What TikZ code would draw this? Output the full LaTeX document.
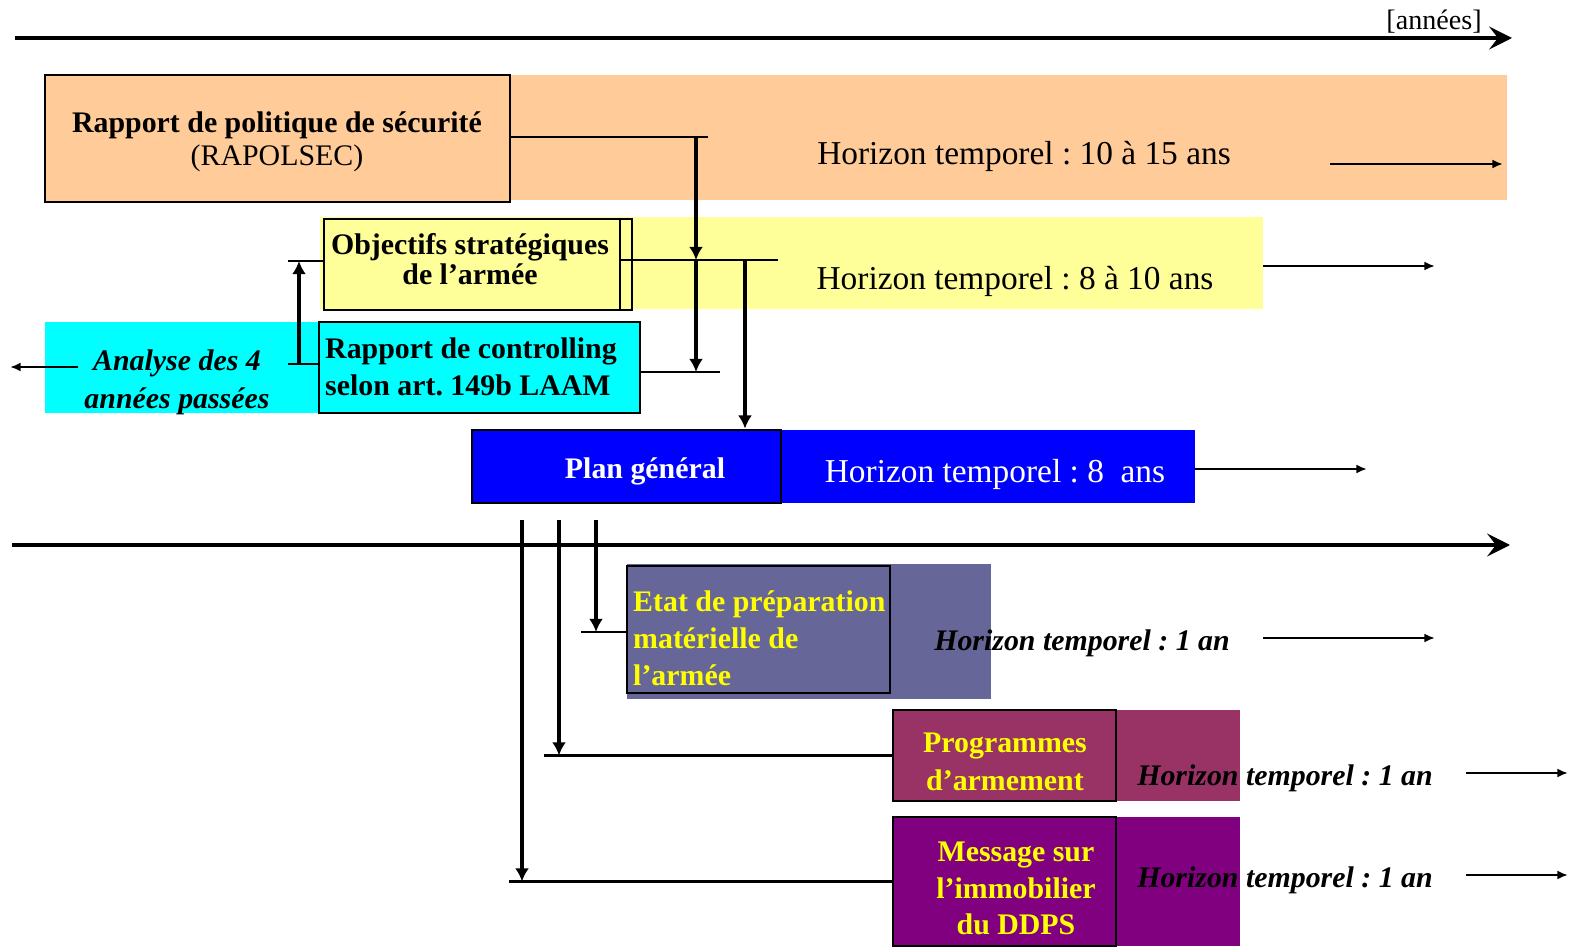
\documentclass[tikz,border=0pt]{standalone}
\usepackage{fontspec}
\setmainfont{Liberation Serif}
\usetikzlibrary{arrows.meta,positioning}

\definecolor{peach}{HTML}{FFCC99}
\definecolor{paleyellow}{HTML}{FFFF99}
\definecolor{aqua}{HTML}{00FFFF}
\definecolor{pureblue}{HTML}{0000FF}
\definecolor{slate}{HTML}{666699}
\definecolor{plum}{HTML}{993366}
\definecolor{msgpurple}{HTML}{800080}
\definecolor{txtyellow}{HTML}{FFFF00}
\frenchspacing

\begin{document}
\begin{tikzpicture}[x=0.02cm,y=-0.02cm,
  box/.style={draw,line width=1.6pt,inner sep=0pt},
  boxtxt/.style={font=\bfseries\fontsize{17}{19}\selectfont},
  horizon/.style={font=\fontsize{19}{22}\selectfont},
  horit/.style={font=\bfseries\itshape\fontsize{17}{20}\selectfont},
  axis/.style={line width=2.3pt,-{Stealth[length=13pt,width=13pt,inset=5pt]}},
  link/.style={line width=1.6pt},
  vtip/.style={line width=2.2pt,-{Latex[length=7.5pt,width=8pt]}},
  htip/.style={line width=1.2pt,-{Latex[length=6pt,width=5pt]}}]
  \def\pxl{0.02cm}
  \useasboundingbox (0,0) rectangle (1573,949);
  % time axes
  \coordinate (ax1s) at (15,38);
  \coordinate (ax1e) at (1512,38);
  \draw[axis] (ax1s) -- (ax1e);
  \node[font=\fontsize{16}{18}\selectfont] (unit) at (1434,22) {[années]};
  \coordinate (ax2s) at (12,545);
  \coordinate (ax2e) at (1510,545);
  \draw[axis] (ax2s) -- (ax2e);
  % bands
  \fill[peach] (45,75) rectangle (1507,200);
  \fill[paleyellow] (320,217) rectangle (1263,309);
  \fill[aqua] (45,322) rectangle (640,413);
  \fill[pureblue] (472,430) rectangle (1195,503);
  \fill[slate] (627,564) rectangle (991,699);
  \fill[plum] (893,710) rectangle (1240,801);
  \fill[msgpurple] (893,817) rectangle (1240,946);
  % boxes
  \node[box,fill=peach,minimum width=465*\pxl,minimum height=127*\pxl] (rapo) at (277.5,138.5) {};
  \node[boxtxt,align=center] (rapotxt) at (277,141.5) {Rapport de politique de sécurité\\\mdseries (RAPOLSEC)};
  \node[box,fill=paleyellow,minimum width=308*\pxl,minimum height=91*\pxl] (obj) at (478,264.5) {};
  \draw[line width=0.8pt] (620,219) -- (620,310);
  \node[boxtxt,align=center,font=\bfseries\fontsize{17}{17}\selectfont] (objtxt) at (470,259) {Objectifs stratégiques\\de l’armée};
  \node[box,fill=aqua,minimum width=321*\pxl,minimum height=91*\pxl] (ctrl) at (479.5,367.5) {};
  \node[boxtxt,align=left,anchor=west,font=\bfseries\fontsize{17}{21}\selectfont] (ctrltxt) at (319,366.5) {Rapport de controlling\\selon art. 149b LAAM};
  \node[horit,align=center,font=\bfseries\itshape\fontsize{17}{21.5}\selectfont] (ana) at (177,382) {Analyse des 4\\années passées};
  \node[box,fill=pureblue,minimum width=309*\pxl,minimum height=73*\pxl] (plan) at (626.5,466.5) {};
  \node[boxtxt,text=white] (plantxt) at (645,471.5) {Plan général};
  \node[box,fill=slate,minimum width=263*\pxl,minimum height=127*\pxl] (etat) at (758.5,629.5) {};
  \node[boxtxt,text=txtyellow,align=left,anchor=west,font=\bfseries\fontsize{17}{21}\selectfont] (etattxt) at (627,638) {Etat de préparation\\matérielle de\\l’armée};
  \node[box,fill=plum,minimum width=223*\pxl,minimum height=91*\pxl] (prog) at (1004.5,755.5) {};
  \node[boxtxt,text=txtyellow,align=center,font=\bfseries\fontsize{17}{21.5}\selectfont] (progtxt) at (1005,761.5) {Programmes\\d’armement};
  \node[box,fill=msgpurple,minimum width=223*\pxl,minimum height=129*\pxl] (msg) at (1004.5,881.5) {};
  \node[boxtxt,text=txtyellow,align=center,font=\bfseries\fontsize{17}{21}\selectfont] (msgtxt) at (1016,888.5) {Message sur\\l’immobilier\\du DDPS};
  % horizons
  \node[horizon] (h1) at (1024,156) {Horizon temporel : 10 à 15 ans};
  \node[horizon] (h2) at (1015,281) {Horizon temporel : 8 à 10 ans};
  \node[horizon,text=white] (h3) at (995,474) {Horizon temporel : 8~ ans};
  \node[horit] (h4) at (1082,643) {Horizon temporel : 1 an};
  \node[horit] (h5) at (1285,778) {Horizon temporel : 1 an};
  \node[horit] (h6) at (1285,880) {Horizon temporel : 1 an};
  \coordinate (h1s) at (1330,164);
  \coordinate (h1e) at (1503,164);
  \coordinate (h2s) at (1263,266);
  \coordinate (h2e) at (1435,266);
  \coordinate (h3s) at (1195,469);
  \coordinate (h3e) at (1367,469);
  \coordinate (h4s) at (1263,638);
  \coordinate (h4e) at (1435,638);
  \coordinate (h5s) at (1466,773);
  \coordinate (h5e) at (1568,773);
  \coordinate (h6s) at (1466,875);
  \coordinate (h6e) at (1568,875);
  \draw[htip] (h1s) -- (h1e);
  \draw[htip] (h2s) -- (h2e);
  \draw[htip] (h3s) -- (h3e);
  \draw[htip] (h4s) -- (h4e);
  \draw[htip] (h5s) -- (h5e);
  \draw[htip] (h6s) -- (h6e);
  \coordinate (anas) at (78,367);
  \coordinate (anae) at (10,367);
  \draw[htip] (anas) -- (anae);
  % links between the reports
  \coordinate (rj) at (696,137);
  \coordinate (oj) at (696,260);
  \coordinate (cj) at (696,372);
  \draw[link] (rapo.east |- rj) -- (708,137);
  \draw[vtip] (rj) -- (oj);
  \draw[vtip] (oj) -- (cj);
  \coordinate (oa) at (620,260);
  \coordinate (ob) at (778,260);
  \coordinate (pj) at (745,260);
  \draw[link] (oa) -- (ob);
  \draw[vtip] (pj) -- (pj |- plan.north);
  \coordinate (ca) at (640,372);
  \coordinate (cb) at (720,372);
  \draw[link] (ca) -- (cb);
  \coordinate (lt) at (288,261);
  \coordinate (lb) at (288,364);
  \coordinate (lu) at (299,364);
  \coordinate (lo) at (299,261);
  \draw[link] (lt) -- (obj.west |- lt);
  \draw[link] (lb) -- (ctrl.west |- lb);
  \draw[vtip] (lu) -- (lo);
  % plan general to the yearly documents
  \coordinate (d1) at (522,520);
  \coordinate (d2) at (559,520);
  \coordinate (d3) at (596,520);
  \draw[link] (etat.west |- 0,632) -- ++(-45,0);
  \draw[link] (prog.west) -- ++(-348,0);
  \draw[link] (msg.west) -- ++(-383,0);
  \draw[vtip] (d1) -- (d1 |- msg.west);
  \draw[vtip] (d2) -- (d2 |- prog.west);
  \draw[vtip] (d3) -- (d3 |- 0,632);
\end{tikzpicture}
\end{document}
